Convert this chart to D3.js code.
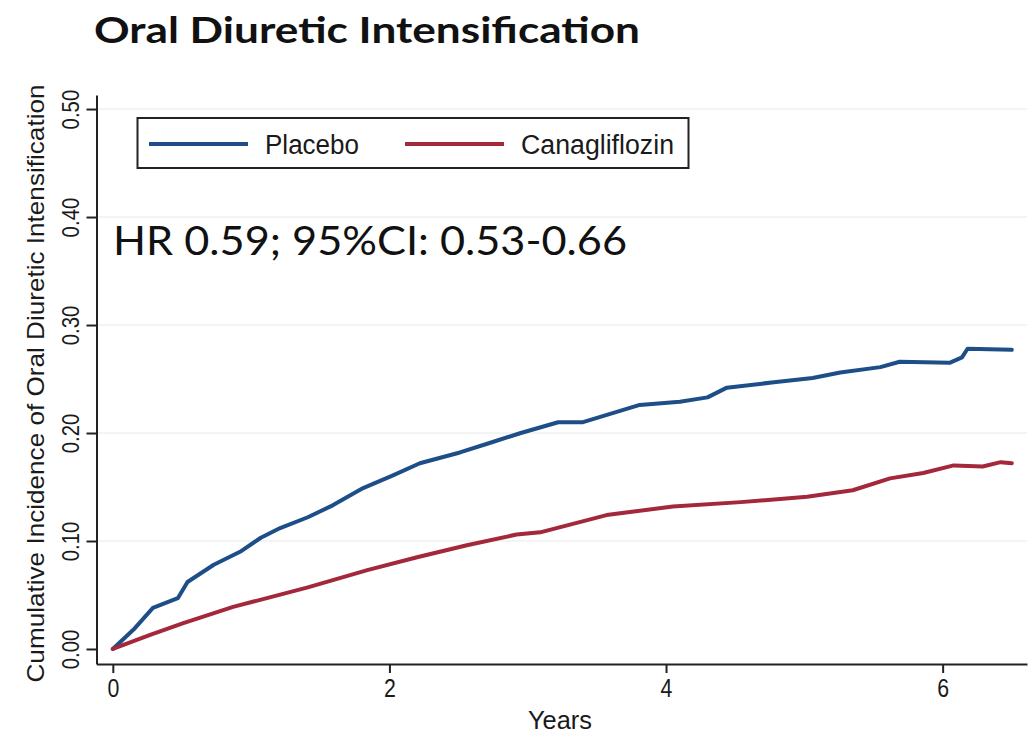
<!DOCTYPE html>
<html>
<head>
<meta charset="utf-8">
<script src="https://cdn.jsdelivr.net/npm/d3@7"></script>
<style>
  html, body { margin: 0; padding: 0; background: #fff; }
  svg { display: block; }
  .narrow { font-family: "Liberation Sans Narrow", "Liberation Sans", Arial, sans-serif; fill: #1a1a1a; }
  .calib { font-family: Lato, "Open Sans", sans-serif; fill: #111; }
</style>
</head>
<body>
<svg id="chart" width="1036" height="736"></svg>
<script>
// Cumulative incidence over follow-up (years, proportion)
const placeboYears = [0, 0.15, 0.29, 0.47, 0.54, 0.73, 0.92, 1.07, 1.21, 1.41, 1.59, 1.81, 2.03, 2.22, 2.51, 2.73, 2.95, 3.22, 3.40, 3.81, 4.10, 4.30, 4.44, 4.78, 5.06, 5.26, 5.55, 5.69, 6.05, 6.14, 6.18, 6.50];
const placeboInc   = [0, 0.018, 0.038, 0.047, 0.062, 0.078, 0.090, 0.103, 0.112, 0.122, 0.133, 0.149, 0.161, 0.172, 0.182, 0.191, 0.200, 0.210, 0.210, 0.226, 0.229, 0.233, 0.242, 0.247, 0.251, 0.256, 0.261, 0.266, 0.265, 0.270, 0.278, 0.277];
const canaYears = [0, 0.27, 0.51, 0.87, 1.41, 1.84, 2.20, 2.56, 2.92, 3.09, 3.57, 4.05, 4.54, 5.02, 5.35, 5.62, 5.86, 6.08, 6.29, 6.42, 6.50];
const canaInc   = [0, 0.013, 0.024, 0.039, 0.057, 0.073, 0.085, 0.096, 0.106, 0.108, 0.124, 0.132, 0.136, 0.141, 0.147, 0.158, 0.163, 0.170, 0.169, 0.173, 0.172];

const xTicks = [0, 2, 4, 6];
const yTicks = [0, 0.1, 0.2, 0.3, 0.4, 0.5];
const seriesNames = ["Placebo", "Canagliflozin"];
const seriesColors = ["#1d4e87", "#a3283b"];

const titleText = "Oral Diuretic Intensification";
const hrText = "HR 0.59; 95%CI: 0.53-0.66";
const yTitle = "Cumulative Incidence of Oral Diuretic Intensification";
const xTitle = "Years";

const svg = d3.select("#chart");

const x = d3.scaleLinear().domain([-0.118, 6.61]).range([96.5, 1027]);
const y = d3.scaleLinear().domain([-0.0139, 0.513]).range([664, 95]);

// faint horizontal grid
svg.append("g").selectAll("line").data(yTicks.slice(1)).join("line")
  .attr("x1", x.range()[0]).attr("x2", x.range()[1])
  .attr("y1", d => y(d)).attr("y2", d => y(d))
  .attr("stroke", "#f3f5f5").attr("stroke-width", 2);

// axes
const xAxis = svg.append("g").attr("transform", `translate(0,${y.range()[0]})`)
  .call(d3.axisBottom(x).tickValues(xTicks).tickSize(9).tickSizeOuter(0).tickPadding(6).tickFormat(d3.format("d")));
xAxis.select(".domain").attr("stroke", "#222").attr("stroke-width", 2);
xAxis.selectAll(".tick line").attr("stroke", "#222").attr("stroke-width", 2);
xAxis.selectAll(".tick text").attr("class", "narrow").attr("font-size", 26).attr("fill", "#1a1a1a")
  .attr("transform", "scale(0.82,1)");

const yAxis = svg.append("g").attr("transform", `translate(${x.range()[0]},0)`)
  .call(d3.axisLeft(y).tickValues(yTicks).tickSize(10).tickSizeOuter(0).tickFormat(d3.format(".2f")));
yAxis.select(".domain").attr("stroke", "#222").attr("stroke-width", 2);
yAxis.selectAll(".tick line").attr("stroke", "#222").attr("stroke-width", 2);
yAxis.selectAll(".tick text")
  .attr("class", "narrow").attr("font-size", 24).attr("fill", "#1a1a1a")
  .attr("x", null).attr("dy", null)
  .attr("text-anchor", "middle")
  .attr("transform", "translate(-18,0) rotate(-90) scale(0.85,1)");

// axis titles
svg.append("text").attr("class", "narrow")
  .attr("font-size", 24)
  .attr("text-anchor", "middle")
  .attr("transform", `translate(44,${(y.range()[0] + y.range()[1]) / 2 + 4}) rotate(-90)`)
  .attr("textLength", 598).attr("lengthAdjust", "spacingAndGlyphs")
  .text(yTitle);

svg.append("text").attr("class", "narrow")
  .attr("font-size", 25)
  .attr("text-anchor", "middle")
  .attr("x", 560).attr("y", 729)
  .attr("textLength", 64).attr("lengthAdjust", "spacingAndGlyphs")
  .text(xTitle);

// curves
const line = d3.line().x(d => x(d[0])).y(d => y(d[1]));
const series = [
  d3.zip(placeboYears, placeboInc),
  d3.zip(canaYears, canaInc)
];
svg.append("g").selectAll("path").data(series).join("path")
  .attr("d", line)
  .attr("fill", "none")
  .attr("stroke", (d, i) => seriesColors[i])
  .attr("stroke-width", 4)
  .attr("stroke-linejoin", "round")
  .attr("stroke-linecap", "round");

// legend
const lg = svg.append("g");
lg.append("rect").attr("x", 137.5).attr("y", 118).attr("width", 551).attr("height", 50)
  .attr("fill", "#fff").attr("stroke", "#222").attr("stroke-width", 2);
const legendItems = [
  { x1: 149, x2: 248, tx: 265, tw: 94 },
  { x1: 405, x2: 504, tx: 521, tw: 153 }
];
legendItems.forEach((it, i) => {
  lg.append("line").attr("x1", it.x1).attr("x2", it.x2).attr("y1", 144).attr("y2", 144)
    .attr("stroke", seriesColors[i]).attr("stroke-width", 4);
  lg.append("text").attr("class", "narrow").attr("font-size", 27)
    .attr("x", it.tx).attr("y", 154)
    .attr("textLength", it.tw).attr("lengthAdjust", "spacingAndGlyphs")
    .text(seriesNames[i]);
});

// title and hazard ratio annotation
svg.append("text").attr("class", "calib")
  .attr("font-size", 37).attr("font-weight", 700)
  .attr("x", 94).attr("y", 43)
  .attr("textLength", 546).attr("lengthAdjust", "spacingAndGlyphs")
  .text(titleText);

svg.append("text").attr("class", "calib")
  .attr("font-size", 41)
  .attr("x", 113).attr("y", 255)
  .attr("textLength", 514).attr("lengthAdjust", "spacingAndGlyphs")
  .text(hrText);
</script>
</body>
</html>
